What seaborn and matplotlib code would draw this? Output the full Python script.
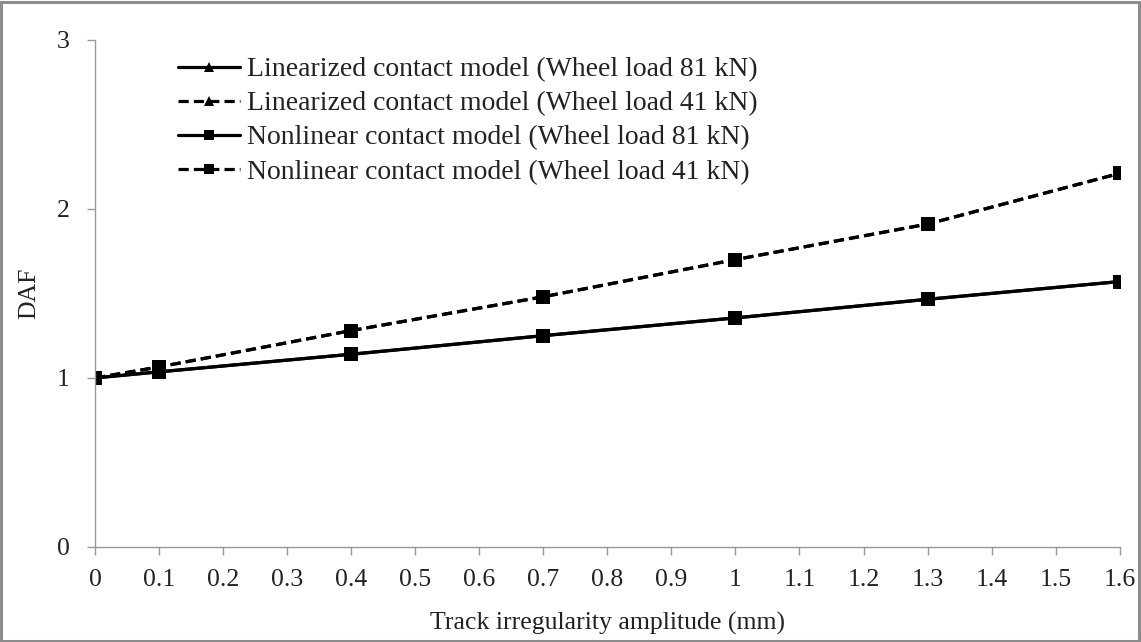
import numpy as np
import pandas as pd
import matplotlib
matplotlib.use("Agg")
import matplotlib.pyplot as plt
import seaborn as sns

sns.set_style("ticks")
plt.rcParams['font.family'] = ['Liberation Serif', 'DejaVu Serif']

# data
amplitude = [0, 0.1, 0.4, 0.7, 1.0, 1.3, 1.6]
lin_81 = [1.0, 1.036, 1.14, 1.25, 1.355, 1.465, 1.57]
lin_41 = [1.0, 1.065, 1.28, 1.48, 1.70, 1.91, 2.21]
non_81 = [1.0, 1.036, 1.14, 1.25, 1.355, 1.465, 1.57]
non_41 = [1.0, 1.065, 1.28, 1.48, 1.70, 1.91, 2.21]

labels = ["Linearized contact model (Wheel load 81 kN)",
          "Linearized contact model (Wheel load 41 kN)",
          "Nonlinear contact model (Wheel load 81 kN)",
          "Nonlinear contact model (Wheel load 41 kN)"]
series = [lin_81, lin_41, non_81, non_41]

rows = []
for lab, vals in zip(labels, series):
    for x, y in zip(amplitude, vals):
        rows.append({"amp": x, "daf": y, "model": lab})
df = pd.DataFrame(rows)

fig = plt.figure(figsize=(11.41, 6.42), dpi=100)
ax = fig.add_axes([0.0833, 0.148, 0.898, 0.790])

markers = {labels[0]: "^", labels[1]: "^", labels[2]: "s", labels[3]: "s"}
dashes = {labels[0]: "", labels[1]: (3.2, 1.6), labels[2]: "", labels[3]: (3.2, 1.6)}
palette = {lab: "black" for lab in labels}

sns.lineplot(data=df, x="amp", y="daf", hue="model", style="model",
             hue_order=labels, style_order=labels, palette=palette,
             markers=markers, dashes=dashes, linewidth=2.3,
             markersize=9.5, markeredgewidth=0, ax=ax)

ax.set_xlim(0, 1.6)
ax.set_ylim(0, 3)
ax.set_xticks(np.arange(0, 1.61, 0.1))
ax.set_xticklabels(["0" if abs(t) < 1e-9 else ("1" if abs(t - 1) < 1e-9 else f"{t:.1f}")
                    for t in np.arange(0, 1.61, 0.1)])
ax.set_yticks([0, 1, 2, 3])
ax.set_xlabel("Track irregularity amplitude (mm)", fontsize=18.5, color="#222222", labelpad=15)
ax.set_ylabel("DAF", fontsize=18.5, color="#222222", labelpad=12)
ax.tick_params(axis="both", labelsize=18.5, colors="#222222", length=6, width=1, color="#999999")
ax.tick_params(axis="x", pad=10)
ax.tick_params(axis="y", pad=12)
for side in ["top", "right"]:
    ax.spines[side].set_visible(False)
for side in ["left", "bottom"]:
    ax.spines[side].set_color("#999999")
    ax.spines[side].set_linewidth(1)

handles, labs = ax.get_legend_handles_labels()
leg = ax.legend(handles, labs, loc="upper left", bbox_to_anchor=(0.081, 0.966),
                frameon=False, fontsize=20, handlelength=2.23, handletextpad=0.25,
                labelspacing=0.31, borderaxespad=0, borderpad=0)
for h in leg.legend_handles:
    h.set_markersize(7)
for t in leg.get_texts():
    t.set_color("#222222")

fig.patches.append(plt.Rectangle((0.001, 0.002), 0.997, 0.995, transform=fig.transFigure,
                                 fill=False, edgecolor="#8c8c8c", linewidth=2.2))

fig.savefig("out.png", dpi=100)
